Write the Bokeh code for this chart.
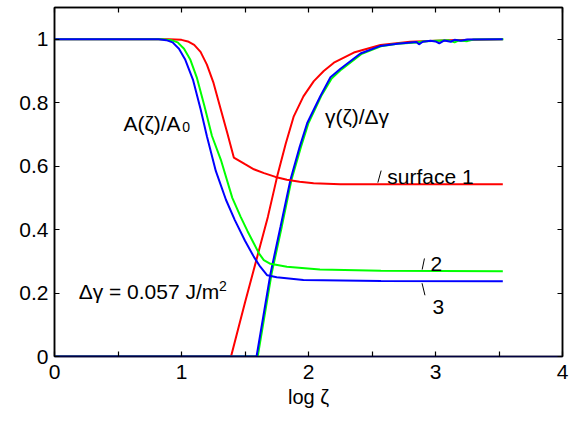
from bokeh.plotting import figure
from bokeh.models import Range1d, FixedTicker, LinearAxis, Label
from bokeh.embed import file_html
from bokeh.resources import INLINE

FONT = "Liberation Sans"

# ---- data: A(zeta)/A0 (decreasing curves) ----
a1_x = [0, 0.9, 1.0, 1.05, 1.1, 1.15, 1.2, 1.25, 1.31, 1.36, 1.412, 1.5, 1.57, 1.65, 1.74, 1.83, 1.93, 2.04, 2.25, 2.6, 3.0, 3.53]
a1_y = [1, 1, 0.998, 0.993, 0.982, 0.96, 0.92, 0.865, 0.778, 0.705, 0.627, 0.606, 0.59, 0.578, 0.566, 0.557, 0.551, 0.546, 0.543, 0.543, 0.543, 0.543]

a2_x = [0, 0.85, 0.92, 0.97, 1.02, 1.07, 1.12, 1.18, 1.24, 1.31, 1.40, 1.465, 1.52, 1.57, 1.61, 1.648, 1.70, 1.83, 2.09, 2.57, 3.53]
a2_y = [1, 1, 0.997, 0.99, 0.97, 0.935, 0.88, 0.79, 0.695, 0.62, 0.50, 0.441, 0.395, 0.356, 0.325, 0.304, 0.292, 0.283, 0.274, 0.270, 0.269]

a3_x = [0, 0.82, 0.88, 0.93, 0.98, 1.03, 1.09, 1.15, 1.20, 1.27, 1.35, 1.42, 1.50, 1.57, 1.62, 1.675, 1.75, 1.96, 2.57, 3.53]
a3_y = [1, 1, 0.997, 0.99, 0.97, 0.935, 0.873, 0.78, 0.694, 0.585, 0.494, 0.43, 0.365, 0.314, 0.283, 0.256, 0.25, 0.241, 0.238, 0.237]

# ---- data: gamma(zeta)/dgamma (increasing curves) ----
g1_x = [0, 1.39, 1.5, 1.596, 1.68, 1.753, 1.82, 1.884, 1.96, 2.042, 2.12, 2.20, 2.357, 2.567, 2.8, 3.1, 3.53]
g1_y = [0, 0, 0.17, 0.314, 0.44, 0.567, 0.67, 0.757, 0.82, 0.868, 0.90, 0.926, 0.958, 0.982, 0.992, 0.997, 1.0]

g2_x = [0, 1.60, 1.71, 1.79, 1.866, 1.94, 2.0, 2.10, 2.18, 2.26, 2.415, 2.57, 2.70, 2.85, 2.9, 3.0, 3.1, 3.15, 3.18, 3.25, 3.3, 3.535]
g2_y = [0, 0, 0.262, 0.41, 0.557, 0.66, 0.736, 0.821, 0.875, 0.905, 0.953, 0.978, 0.986, 0.99, 0.993, 0.995, 0.997, 0.99, 0.996, 0.994, 0.999, 1.0]

g3_x = [0, 1.591, 1.701, 1.78, 1.858, 1.93, 1.99, 2.094, 2.173, 2.252, 2.409, 2.567, 2.70, 2.85, 2.87, 2.9, 2.96, 3.0, 3.03, 3.07, 3.12, 3.15, 3.2, 3.25, 3.53]
g3_y = [0, 0, 0.262, 0.41, 0.557, 0.66, 0.736, 0.821, 0.88, 0.907, 0.955, 0.979, 0.986, 0.991, 0.984, 0.992, 0.995, 0.993, 0.987, 0.996, 0.992, 0.998, 0.995, 0.999, 1.0]

# ---- axes ----
x_ticks = [0, 1, 2, 3, 4]
x_minor = [0.5, 1.5, 2.5, 3.5]
y_ticks = [0, 0.2, 0.4, 0.6, 0.8, 1]
y_tick_labels = ["0", "0.2", "0.4", "0.6", "0.8", "1"]

# ---- annotations ----
ann_text = ["A(\u03b6)/A", "\u03b3(\u03b6)/\u0394\u03b3", "surface 1", "2", "3", "\u0394\u03b3 = 0.057 J/m"]
ann_x = [0.543, 2.13, 2.62, 2.96, 2.976, 0.19]
ann_y = [0.734, 0.756, 0.566, 0.291, 0.155, 0.205]
small_text = ["0", "2"]
small_x = [1.005, 1.295]
small_y = [0.722, 0.222]
lead_x0 = [2.546, 2.895, 2.894]
lead_y0 = [0.548, 0.274, 0.231]
lead_x1 = [2.572, 2.913, 2.917]
lead_y1 = [0.586, 0.309, 0.193]

p = figure(width=570, height=415, x_range=Range1d(0, 4), y_range=Range1d(0, 1.1),
           output_backend="svg", toolbar_location=None,
           min_border_left=54, min_border_right=8, min_border_top=7, min_border_bottom=59)
p.xgrid.visible = False
p.ygrid.visible = False
p.outline_line_color = "black"
p.outline_line_width = 1.5
p.background_fill_color = "white"
p.border_fill_color = "white"


def style_axis(ax, ticker, show_labels, line_color="black"):
    ax.ticker = ticker
    ax.axis_line_color = line_color
    ax.axis_line_width = 1.5
    ax.major_tick_in = 5
    ax.major_tick_out = 0
    ax.minor_tick_in = 5
    ax.minor_tick_out = 0
    ax.major_tick_line_color = "black"
    ax.minor_tick_line_color = "black"
    ax.major_tick_line_width = 1.2
    ax.minor_tick_line_width = 1.2
    if show_labels:
        ax.major_label_text_font = FONT
        ax.major_label_text_font_size = "21px"
        ax.major_label_text_color = "black"
    else:
        ax.major_label_text_font_size = "1px"
        ax.major_label_text_color = None
        ax.major_label_standoff = 0


xt = FixedTicker(ticks=x_ticks, minor_ticks=x_minor)
yt = FixedTicker(ticks=y_ticks, minor_ticks=[])

xa = p.xaxis[0]
style_axis(xa, xt, True, line_color="#000040")
xa.major_label_standoff = 8
xa.axis_label = "log \u03b6"
xa.axis_label_text_font = FONT
xa.axis_label_text_font_size = "20px"
xa.axis_label_text_font_style = "normal"
xa.axis_label_text_color = "black"
xa.axis_label_standoff = 4

ya = p.yaxis[0]
style_axis(ya, yt, True)
ya.major_label_standoff = 6
ya.major_label_overrides = dict(zip(y_ticks, y_tick_labels))

top = LinearAxis()
style_axis(top, FixedTicker(ticks=x_ticks, minor_ticks=x_minor), False)
p.add_layout(top, "above")
right = LinearAxis()
style_axis(right, FixedTicker(ticks=y_ticks, minor_ticks=[]), False)
p.add_layout(right, "right")

LW = 2
p.line(g1_x, g1_y, line_color="#ff0000", line_width=LW)
p.line(g2_x, g2_y, line_color="#00ff00", line_width=LW)
p.line(g3_x, g3_y, line_color="#0000ff", line_width=LW)
p.line(a1_x, a1_y, line_color="#ff0000", line_width=LW)
p.line(a2_x, a2_y, line_color="#00ff00", line_width=LW)
p.line(a3_x, a3_y, line_color="#0000ff", line_width=LW)

p.segment(x0=lead_x0, y0=lead_y0, x1=lead_x1, y1=lead_y1, line_color="black", line_width=1)

for t, x, y in zip(ann_text, ann_x, ann_y):
    p.add_layout(Label(x=x, y=y, text=t, text_font=FONT, text_font_size="21px",
                       text_baseline="alphabetic", text_color="black"))
for t, x, y in zip(small_text, small_x, small_y):
    p.add_layout(Label(x=x, y=y, text=t, text_font=FONT, text_font_size="14px",
                       text_baseline="alphabetic", text_color="black"))

open("out.html", "w").write(file_html(p, INLINE))
